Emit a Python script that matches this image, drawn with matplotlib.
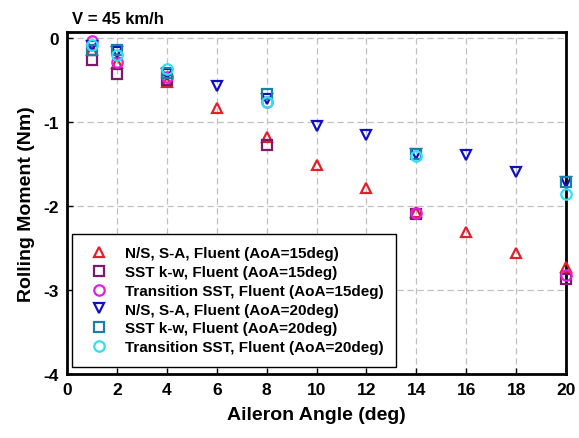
import matplotlib
matplotlib.use("Agg")
import matplotlib.pyplot as plt

plt.rcParams['font.family'] = ['Liberation Sans', 'DejaVu Sans']
plt.rcParams['font.weight'] = 'bold'
plt.rcParams['axes.unicode_minus'] = False

x_full = [1, 2, 4, 6, 8, 10, 12, 14, 16, 18, 20]
x_part = [1, 2, 4, 8, 14, 20]

sa15 = [-0.15, -0.30, -0.52, -0.83, -1.18, -1.51, -1.79, -2.07, -2.31, -2.56, -2.73]
sst15 = [-0.26, -0.43, -0.50, -1.28, -2.09, -2.87]
tr15 = [-0.04, -0.29, -0.46, -0.76, -2.08, -2.82]
sa20 = [-0.10, -0.17, -0.43, -0.57, -0.73, -1.05, -1.15, -1.38, -1.39, -1.60, -1.71]
sst20 = [-0.15, -0.15, -0.42, -0.67, -1.38, -1.72]
tr20 = [-0.08, -0.20, -0.37, -0.76, -1.40, -1.86]

labels = ["N/S, S-A, Fluent (AoA=15deg)",
          "SST k-w, Fluent (AoA=15deg)",
          "Transition SST, Fluent (AoA=15deg)",
          "N/S, S-A, Fluent (AoA=20deg)",
          "SST k-w, Fluent (AoA=20deg)",
          "Transition SST, Fluent (AoA=20deg)"]

fig = plt.figure(figsize=(5.79, 4.39), dpi=100)
ax = fig.add_axes([0.1157, 0.1458, 0.862, 0.779])

ms = 7.5
mew = 1.6
series = [
    (x_full, sa15, '^', '#e0202a'),
    (x_part, sst15, 's', '#7f1a6a'),
    (x_part, tr15, 'o', '#e020e0'),
    (x_full, sa20, 'v', '#1010c0'),
    (x_part, sst20, 's', '#1a80a8'),
    (x_part, tr20, 'o', '#30e0f0'),
]
for (xs, ys, m, c), lab in zip(series, labels):
    ax.plot(xs, ys, linestyle='none', marker=m, markersize=ms, markerfacecolor='none',
            markeredgecolor=c, markeredgewidth=mew, label=lab, clip_on=False, zorder=3)

ax.set_xlim(0, 20)
ax.set_ylim(-4, 0.07)
ax.set_xticks(range(0, 21, 2))
ax.set_yticks([-4, -3, -2, -1, 0])
ax.grid(True, linestyle=(0, (5, 3)), color='#c0c0c0', linewidth=0.9)
ax.tick_params(direction='in', length=4, width=1, labelsize=12.5, pad=6)
for lab in ax.get_xticklabels() + ax.get_yticklabels():
    lab.set_fontweight('bold')
for s in ax.spines.values():
    s.set_linewidth(2)
    s.set_zorder(2.5)

ax.set_xlabel('Aileron Angle (deg)', fontsize=14, fontweight='bold', labelpad=6)
ax.set_ylabel('Rolling Moment (Nm)', fontsize=14, fontweight='bold', labelpad=6)
fig.text(0.125, 0.955, 'V = 45 km/h', fontsize=12, fontweight='bold', ha='left', va='center')

leg = ax.legend(loc='lower left', bbox_to_anchor=(0.01, 0.02), borderaxespad=0,
                fancybox=False, edgecolor='black', framealpha=1,
                prop={'size': 11, 'weight': 'bold'}, handletextpad=0.8,
                labelspacing=0.31, borderpad=0.85, handlelength=1.8)
leg.get_frame().set_linewidth(1)
leg.set_zorder(5)

fig.savefig('out.png', dpi=100)
